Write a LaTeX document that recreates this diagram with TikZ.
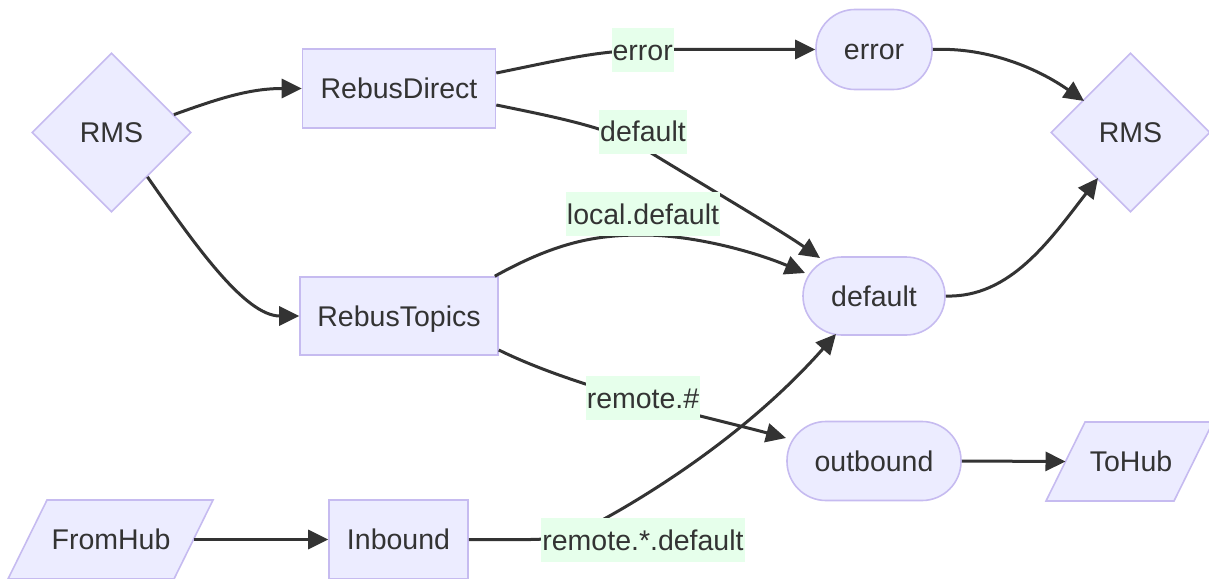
\documentclass[tikz,border=0pt]{standalone}
\usepackage{fontspec}
\setmainfont{Liberation Sans}
\usetikzlibrary{shapes.geometric,arrows.meta,calc}
\definecolor{nfill}{HTML}{ECECFF}
\definecolor{nstroke}{HTML}{C6BBF0}
\definecolor{lfill}{HTML}{E6FFEB}
\definecolor{ink}{HTML}{333333}
\newcommand{\dfont}{\fontsize{28.5}{34}\selectfont}
\tikzset{
  base/.style={fill=nfill,draw=nstroke,line width=1.6pt,text=ink,font=\dfont,inner sep=0pt,text height=20.5pt,text depth=0pt},
  boxnode/.style={base,rectangle},
  stadium/.style={base,rectangle,rounded corners=39pt},
  rhomb/.style={base,diamond,minimum width=159pt,minimum height=159pt},
  shapepath/.style={fill=nfill,draw=nstroke,line width=1.6pt},
  txt/.style={text=ink,font=\dfont,inner sep=0pt,text height=20.5pt,text depth=0pt},
  elabel/.style={fill=lfill,text=ink,font=\dfont,inner xsep=1pt,inner ysep=0pt,minimum height=44pt,text height=20.5pt,text depth=0pt},
  conn/.style={draw=ink,line width=3pt,-{Triangle[length=20pt,width=19pt]}},
}
\begin{document}
\begin{tikzpicture}[x=1pt,y=-1pt]
\useasboundingbox (0,0) rectangle (1209,578);
% nodes
\node[rhomb] (rmsL) at (111.5,132.5) {RMS};
\node[boxnode,minimum width=193pt,minimum height=79pt] (rd) at (399,88.5) {RebusDirect};
\node[boxnode,minimum width=198pt,minimum height=78pt] (rt) at (399,316) {RebusTopics};
\node[stadium,minimum width=116pt,minimum height=80pt] (err) at (874,49.5) {error};
\node[stadium,minimum width=142pt,minimum height=78pt] (def) at (874,296) {default};
\node[stadium,minimum width=174pt,minimum height=79pt] (out) at (874,461) {outbound};
\node[rhomb] (rmsR) at (1130.5,132.5) {RMS};
\path[shapepath] (47,500) -- (213,500) -- (174,579) -- (8,579) -- cycle;
\node[txt] (fh) at (111,539.5) {FromHub};
\coordinate (fhR) at (193.5,539.5);
\node[boxnode,minimum width=139pt,minimum height=79pt] (inb) at (398.5,539.5) {Inbound};
\path[shapepath] (1085,422) -- (1213,422) -- (1174,501) -- (1046,501) -- cycle;
\node[txt] (th) at (1131,461.5) {ToHub};
\coordinate (thL) at (1065.5,461.5);
% connectors
\draw[conn] (rmsL.16) .. controls (220,98) and (250,88.5) .. (rd.west);
\draw[conn] (rmsL.-51) .. controls (195,245) and (245,316) .. (rt.west);
\draw[conn] ($(rd.east)+(0,-15.5)$) .. controls (570,58) and (600,50) .. (660,49.5) -- (err.west);
\draw[conn] ($(rd.east)+(0,16.5)$) .. controls (560,118) and (610,128) .. (643,148) .. controls (700,183) and (780,230) .. ($(def)+(-54,-38)$);
\draw[conn] ($(rt.north east)+(-4,0)$) .. controls (560,240) and (600,235) .. (643,235) .. controls (690,235) and (750,250) .. ($(def)+(-69,-23)$);
\draw[conn] ($(rt.east)+(0,34)$) .. controls (580,390) and (700,415) .. ($(out)+(-88,-23)$);
\draw[conn] (fhR) -- (inb.west);
\draw[conn] (inb.east) -- (530,539.5) .. controls (570,539.5) and (590,527) .. (620,510) .. controls (680,475) and (760,420) .. ($(def)+(-38,38)$);
\draw[conn] (err.east) .. controls (990,47) and (1040,70) .. ($(rmsR)+(-46.5,-31.5)$);
\draw[conn] (def.east) .. controls (1010,298) and (1050,240) .. ($(rmsR)+(-32.5,45.5)$);
\draw[conn] (out.east) -- (thL);
% edge labels
\node[elabel] (l1) at (642.7,50) {error};
\node[elabel] (l2) at (643,131.5) {default};
\node[elabel] (l3) at (643,214) {local.default};
\node[elabel] (l4) at (643,398) {remote.\#};
\node[elabel] (l5) at (643,540) {remote.*.default};
\end{tikzpicture}
\end{document}
